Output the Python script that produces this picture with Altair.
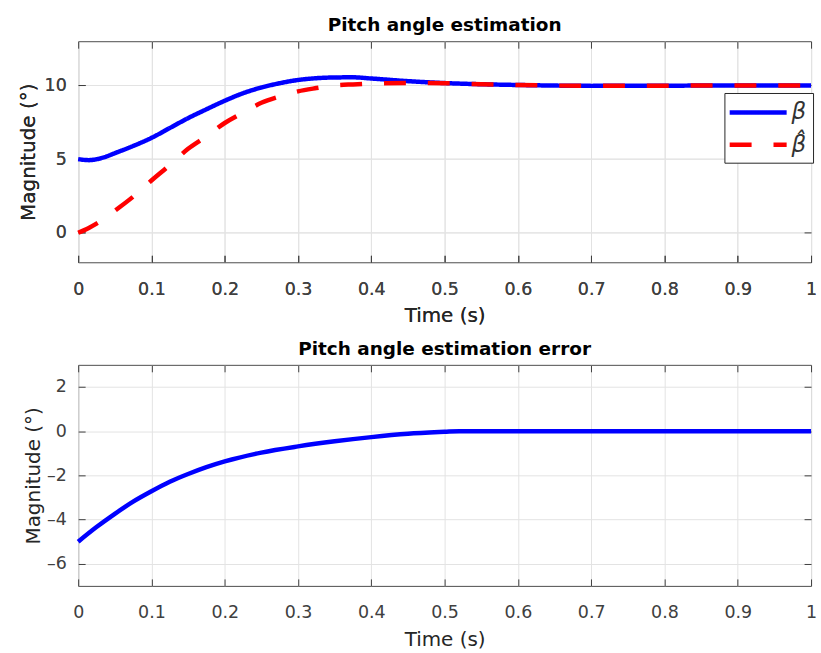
import altair as alt
import pandas as pd

# ---- data ----
t_top = [0, 0.0145, 0.025, 0.0375, 0.05, 0.075, 0.1, 0.125, 0.15, 0.175, 0.2, 0.225, 0.25,
         0.275, 0.3, 0.325, 0.35, 0.375, 0.4, 0.45, 0.5, 0.55, 0.6, 0.65, 0.7,
         0.8, 0.9, 1.0]
beta = [5.0, 4.93, 4.99, 5.16, 5.4, 5.89, 6.44, 7.11, 7.78, 8.38, 8.96, 9.47, 9.86,
        10.15, 10.37, 10.49, 10.54, 10.55, 10.47, 10.29, 10.16, 10.08, 10.03, 9.99, 9.97,
        9.98, 10.0, 10.0]
beta_hat = [0.0, 0.33, 0.62, 1.02, 1.49, 2.45, 3.55, 4.6, 5.7, 6.55, 7.45, 8.15, 8.82,
            9.25, 9.6, 9.82, 10.0, 10.07, 10.12, 10.17, 10.15, 10.08, 10.03, 9.99, 9.97,
            9.98, 10.0, 10.0]

t_err = [0, 0.025, 0.05, 0.075, 0.1, 0.125, 0.15, 0.175, 0.2, 0.25, 0.3, 0.35,
         0.4, 0.45, 0.5, 0.52, 0.6, 0.7, 0.8, 0.9, 1.0]
err = [-5.0, -4.34, -3.74, -3.19, -2.72, -2.29, -1.94, -1.63, -1.37, -0.97, -0.69, -0.46,
       -0.27, -0.12, -0.03, 0.0, 0.0, 0.0, 0.0, 0.0, 0.0]

x_ticks = [0, 0.1, 0.2, 0.3, 0.4, 0.5, 0.6, 0.7, 0.8, 0.9, 1]
y_ticks_top = [0, 5, 10]
y_ticks_bot = [-6, -4, -2, 0, 2]
series_names = ["beta", "betahat"]

df_top = pd.DataFrame({
    "t": t_top + t_top,
    "v": beta + beta_hat,
    "s": [series_names[0]] * len(t_top) + [series_names[1]] * len(t_top),
})
df_err = pd.DataFrame({"t": t_err, "v": err})

W, H = 736, 222
TICK = 7
FONT = "DejaVu Sans"
MINUS_FIX = "replace(datum.label, '\u2212', '\u2013')"

def main_x():
    return alt.Axis(values=x_ticks, format="~g", orient="bottom", offset=-TICK,
                    tickSize=TICK, domain=False, grid=True, labelPadding=18,
                    labelFlush=False, title="Time (s)", titlePadding=8)

def main_y(vals, tpad):
    return alt.Axis(values=vals, orient="left", offset=-TICK, tickSize=TICK,
                    domain=False, grid=True, labelPadding=12, labelFlush=False,
                    labelExpr=MINUS_FIX,
                    title="Magnitude (°)", titlePadding=tpad)

def side_x():
    return alt.Axis(values=x_ticks, orient="top", offset=-TICK, tickSize=TICK,
                    domain=False, grid=False, labels=False, title=None)

def side_y(vals):
    return alt.Axis(values=vals, orient="right", offset=-TICK, tickSize=TICK,
                    domain=False, grid=False, labels=False, title=None)

xs = alt.Scale(domain=[0, 1], nice=False, zero=False)
ys_top = alt.Scale(domain=[-2, 13], nice=False, zero=False)
ys_bot = alt.Scale(domain=[-7, 3], nice=False, zero=False)

leg = alt.Legend(orient="none", legendX=649, legendY=52, title=None,
                 symbolType="M-2.6,0H2.6", symbolSize=484, symbolStrokeWidth=4.5,
                 symbolOffset=14.4,
                 labelFont="DejaVu Sans", labelFontStyle="italic", labelFontSize=23,
                 labelColor="#333333",
                 labelExpr="datum.value == 'beta' ? 'β' : 'β\u0302'",
                 strokeColor="#262626", fillColor="white", padding=6,
                 rowPadding=6.5, labelOffset=20, cornerRadius=0)

color_enc = alt.Color("s:N", scale=alt.Scale(domain=series_names, range=["#0000ff", "#ff0000"]), legend=leg)
dash_enc = alt.StrokeDash("s:N", scale=alt.Scale(domain=series_names, range=[[1, 0], [22, 22]]), legend=leg)

base_top = alt.Chart(df_top)
blue = base_top.transform_filter("datum.s == 'beta'").mark_line(strokeWidth=4.5, interpolate="monotone").encode(
    x=alt.X("t:Q", scale=xs, axis=main_x()),
    y=alt.Y("v:Q", scale=ys_top, axis=main_y(y_ticks_top, 6)),
    color=color_enc, strokeDash=dash_enc,
)
red = base_top.transform_filter("datum.s == 'betahat'").mark_line(strokeWidth=4.5, interpolate="monotone").encode(
    x=alt.X("t:Q", scale=xs, axis=main_x()),
    y=alt.Y("v:Q", scale=ys_top, axis=main_y(y_ticks_top, 6)),
    color=color_enc, strokeDash=dash_enc,
)
ghost_top = base_top.mark_line(opacity=0).encode(
    x=alt.X("t:Q", scale=xs, axis=side_x()),
    y=alt.Y("v:Q", scale=ys_top, axis=side_y(y_ticks_top)),
    detail="s:N",
)
top = alt.layer(blue, red, ghost_top).resolve_axis(x="independent", y="independent").properties(
    width=W, height=H,
    title=alt.Title("Pitch angle estimation", fontSize=18.5, fontWeight="bold", font=FONT,
                    anchor="middle", color="#000000", offset=6),
)

base_err = alt.Chart(df_err)
err_line = base_err.mark_line(strokeWidth=4.5, color="#0000ff", interpolate="monotone").encode(
    x=alt.X("t:Q", scale=xs, axis=main_x()),
    y=alt.Y("v:Q", scale=ys_bot, axis=main_y(y_ticks_bot, 2.5)),
)
ghost_err = base_err.mark_line(opacity=0).encode(
    x=alt.X("t:Q", scale=xs, axis=side_x()),
    y=alt.Y("v:Q", scale=ys_bot, axis=side_y(y_ticks_bot)),
)
bottom = alt.layer(err_line, ghost_err).resolve_axis(x="independent", y="independent").properties(
    width=W, height=H,
    title=alt.Title("Pitch angle estimation error", fontSize=18.5, fontWeight="bold", font=FONT,
                    anchor="middle", color="#000000", offset=6),
)

chart = alt.vconcat(top, bottom, spacing=13).properties(
    padding={"left": 17.5, "top": 14, "right": 0, "bottom": 0},
    background="white",
).configure_view(
    stroke="#4d4d4d", strokeWidth=1,
).configure_axis(
    labelFont=FONT, labelFontSize=17.5, labelColor="#404040",
    titleFont=FONT, titleFontSize=20, titleFontWeight="normal", titleColor="#262626",
    gridColor="#e3e3e3", gridWidth=1, tickColor="#404040", tickWidth=1,
)

chart.save("out.html", embed_options={"renderer": "svg", "actions": False})
